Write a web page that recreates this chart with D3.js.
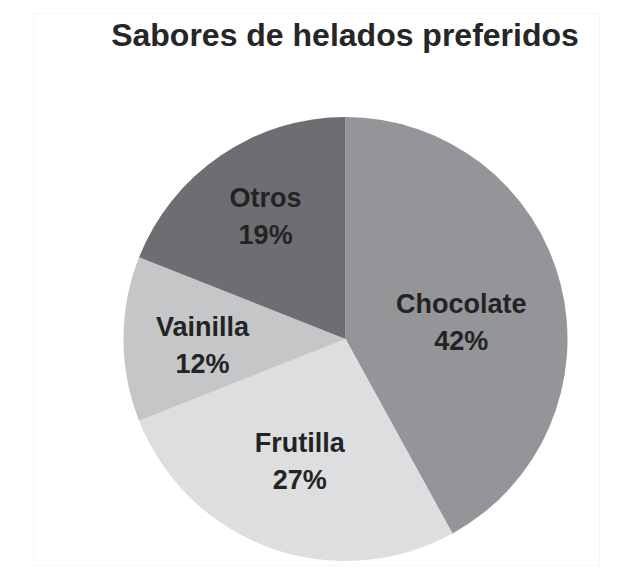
<!DOCTYPE html>
<html>
<head>
<meta charset="utf-8">
<script src="https://cdn.jsdelivr.net/npm/d3@7"></script>
<style>
  body { margin: 0; background: #fff; }
  svg { display: block; font-family: "Liberation Sans", Arial, sans-serif; }
</style>
</head>
<body>
<div id="chart"></div>
<script>
// data
const categories = ["Chocolate", "Frutilla", "Vainilla", "Otros"];
const percents = [42, 27, 12, 19];
const sliceColors = ["#939598", "#dcdee0", "#c4c6c8", "#6d6e71"];
const title = "Sabores de helados preferidos";

// small nudges so labels sit where the original put them
const labelNudge = { Chocolate: [-15, 17], Frutilla: [0, -5], Vainilla: [-8, 6], Otros: [-4, -11] };

const width = 628, height = 578;
const cx = 345.5, cy = 339, radius = 222;

const svg = d3.select("#chart").append("svg")
  .attr("width", width)
  .attr("height", height);

// faint frame of the scanned figure
svg.append("rect")
  .attr("x", 33.5).attr("y", 13.5)
  .attr("width", 566).attr("height", 552)
  .attr("fill", "none")
  .attr("stroke", "#f7f7f7");

svg.append("text")
  .attr("x", 345)
  .attr("y", 46)
  .attr("text-anchor", "middle")
  .attr("font-size", 32)
  .attr("font-weight", "bold")
  .attr("fill", "#262626")
  .text(title);

const slices = categories.map((c, i) => ({ name: c, value: percents[i], color: sliceColors[i] }));

const pie = d3.pie().sort(null).value(d => d.value);
const arc = d3.arc().innerRadius(0).outerRadius(radius);
const labelArc = d3.arc().innerRadius(135).outerRadius(135);

const g = svg.append("g").attr("transform", "translate(" + cx + "," + cy + ")");
const arcs = pie(slices);

g.selectAll("path")
  .data(arcs)
  .enter()
  .append("path")
  .attr("d", arc)
  .attr("fill", d => d.data.color);

const labels = g.selectAll("text.lbl")
  .data(arcs)
  .enter()
  .append("text")
  .attr("class", "lbl")
  .attr("text-anchor", "middle")
  .attr("font-size", 27)
  .attr("font-weight", "bold")
  .attr("fill", "#232323")
  .attr("transform", d => {
    const p = labelArc.centroid(d);
    const n = labelNudge[d.data.name] || [0, 0];
    return "translate(" + (p[0] + n[0]) + "," + (p[1] + n[1]) + ")";
  });

labels.append("tspan")
  .attr("x", 0)
  .attr("y", -9)
  .text(d => d.data.name);

labels.append("tspan")
  .attr("x", 0)
  .attr("y", 28)
  .text(d => d.data.value + "%");
</script>
</body>
</html>
